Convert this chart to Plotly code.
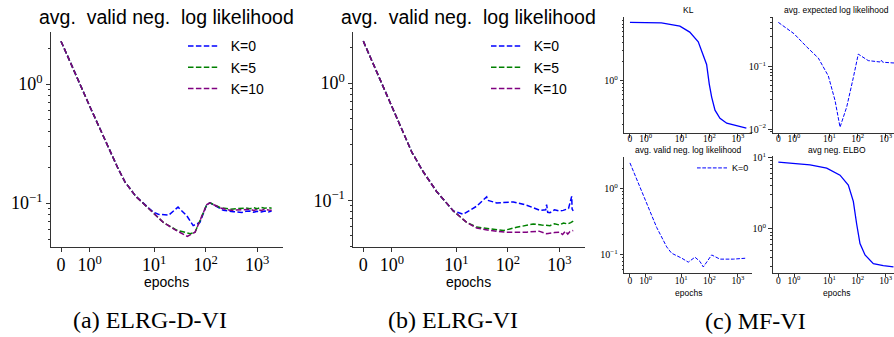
import math
import plotly.graph_objects as go

# ---------------- data (epochs, values) ----------------
# (a) ELRG-D-VI : avg. valid neg. log likelihood
a_k0_ep = [0, 1, 2, 2.7, 4.4, 6.6, 9.5, 12, 19, 29, 43, 57, 77, 105, 121, 160, 219, 344, 400, 500, 600, 725, 850, 1000, 1200, 1400, 1650, 1900]
a_k0_val = [2.29, 0.654, 0.194, 0.151, 0.114, 0.0963, 0.0844, 0.0807, 0.0793, 0.0927, 0.0782, 0.0648, 0.069, 0.0975, 0.1005, 0.094, 0.0871, 0.0849, 0.0845, 0.0835, 0.0855, 0.0859, 0.084, 0.0855, 0.0845, 0.086, 0.0845, 0.0859]
a_k5_ep = [0, 1, 2, 2.7, 4.4, 6.6, 9.5, 15, 27, 40, 50, 62, 77, 105, 121, 189, 296, 400, 500, 600, 725, 850, 1000, 1200, 1400, 1650, 1900]
a_k5_val = [2.29, 0.654, 0.194, 0.151, 0.114, 0.0963, 0.0844, 0.069, 0.0595, 0.057, 0.0554, 0.0571, 0.0712, 0.0975, 0.1005, 0.092, 0.089, 0.09, 0.09, 0.091, 0.09, 0.0915, 0.09, 0.092, 0.0905, 0.092, 0.0905]
a_k10_ep = [0, 1, 2, 2.7, 4.4, 6.6, 9.5, 15, 27, 44, 62, 77, 105, 121, 189, 296, 400, 500, 600, 725, 850, 1000, 1200, 1400, 1650, 1900]
a_k10_val = [2.29, 0.654, 0.194, 0.151, 0.114, 0.0963, 0.0844, 0.069, 0.0589, 0.0526, 0.0571, 0.0712, 0.0975, 0.1005, 0.0914, 0.0871, 0.0875, 0.088, 0.0885, 0.0888, 0.087, 0.0885, 0.087, 0.089, 0.0875, 0.0871]

# (b) ELRG-VI : avg. valid neg. log likelihood
b_k0_ep = [0, 1, 1.7, 2.26, 4.1, 8.7, 13.5, 24.6, 38.5, 40, 60, 127, 230, 418, 540, 563, 590, 653, 800, 1000, 1183, 1500, 1726, 1760, 1850]
b_k0_val = [2.28, 0.626, 0.256, 0.175, 0.119, 0.081, 0.076, 0.089, 0.107, 0.1, 0.095, 0.0968, 0.0908, 0.082, 0.083, 0.092, 0.079, 0.0784, 0.083, 0.081, 0.082, 0.085, 0.108, 0.084, 0.081]
b_k5_ep = [0, 1, 1.7, 2.26, 4.1, 8.7, 15.8, 24.6, 44.7, 82, 147, 230, 310, 450, 653, 800, 1000, 1200, 1450, 1650, 1850]
b_k5_val = [2.28, 0.626, 0.256, 0.175, 0.119, 0.081, 0.0647, 0.059, 0.0572, 0.0552, 0.0588, 0.061, 0.0627, 0.0615, 0.0607, 0.063, 0.0615, 0.064, 0.0627, 0.0645, 0.0663]
b_k10_ep = [0, 1, 1.7, 2.26, 4.1, 8.7, 15.8, 24.6, 44.7, 94, 230, 400, 563, 800, 1000, 1150, 1300, 1450, 1600, 1850]
b_k10_val = [2.28, 0.626, 0.256, 0.175, 0.119, 0.081, 0.0647, 0.058, 0.0552, 0.0534, 0.0534, 0.0545, 0.0518, 0.053, 0.0534, 0.051, 0.0545, 0.0515, 0.054, 0.0552]

# (c) MF-VI
c_kl_ep = [0, 2, 9, 20, 40, 60, 79, 98, 119, 156, 234, 405, 914, 2000]
c_kl_val = [8.5, 8.33, 7.38, 5.96, 4.17, 2.59, 1.82, 0.889, 0.553, 0.343, 0.255, 0.213, 0.194, 0.178]
c_ell_ep = [0, 1, 1.8, 4.06, 9.2, 15.9, 23.9, 41.3, 70.8, 106, 240, 625, 700, 780, 1810, 2000]
c_ell_val = [0.5, 0.33, 0.205, 0.135, 0.07, 0.0285, 0.0107, 0.0225, 0.066, 0.156, 0.123, 0.117, 0.125, 0.116, 0.113, 0.113]
c_vnll_ep = [0, 1.06, 1.7, 3.07, 4.6, 10.4, 17.8, 30.7, 46, 60.3, 90.6, 119, 234, 692, 2000]
c_vnll_val = [2.4, 0.6, 0.258, 0.132, 0.106, 0.0895, 0.078, 0.0925, 0.0798, 0.066, 0.0845, 0.1, 0.0865, 0.0865, 0.0895]
c_elbo_ep = [0, 2.06, 8.05, 23.9, 47, 70.8, 93, 122, 184, 363, 819, 1880]
c_elbo_val = [8.55, 7.85, 7.08, 5.63, 4.11, 2.43, 1.17, 0.624, 0.432, 0.326, 0.306, 0.294]

x_tick_epochs = [0, 1, 10, 100, 1000]
x_tick_text = ["0", "10<sup>0</sup>", "10<sup>1</sup>", "10<sup>2</sup>", "10<sup>3</sup>"]

# ---------------- helpers ----------------
W, H = 894, 337
LINTHRESH = 2.0
LINSCALE = 1.0 / (1.0 - 0.1)


def symlog(v):
    if v <= LINTHRESH:
        return v / LINTHRESH * LINSCALE
    return LINSCALE + math.log10(v / LINTHRESH)


def px(x):
    return x / W


def py(y):
    return 1 - y / H


def ytick_text(v):
    e = int(round(math.log10(v)))
    return "10<sup>" + ("−" + str(-e) if e < 0 else str(e)) + "</sup>"


minor_vals = [k * 10.0 ** d for d in range(-3, 2) for k in range(2, 10)]
AX = "#333333"

fig = go.Figure()

BLUE, GREEN, PURPLE = "blue", "green", "purple"
DASH_BIG = "5.5px,2.4px"
DASH_SMALL = "3.7px,1.6px"
PAD = "\u00a0\u00a0"


def add(ep, val, name, color, xa, ya, dash, width, legend=None, show=False):
    fig.add_trace(go.Scatter(
        x=[symlog(e) for e in ep], y=val, mode="lines", name=name,
        line=dict(color=color, width=width, dash=dash),
        xaxis=xa, yaxis=ya, showlegend=show, legend=legend,
        legendgroup=(legend or "") + name, hoverinfo="skip"))


add(a_k0_ep, a_k0_val, PAD + "K=0", BLUE, "x", "y", DASH_BIG, 1.5, "legend", True)
add(a_k5_ep, a_k5_val, PAD + "K=5", GREEN, "x", "y", DASH_BIG, 1.5, "legend", True)
add(a_k10_ep, a_k10_val, PAD + "K=10", PURPLE, "x", "y", DASH_BIG, 1.5, "legend", True)

add(b_k0_ep, b_k0_val, PAD + "K=0", BLUE, "x2", "y2", DASH_BIG, 1.5, "legend2", True)
add(b_k5_ep, b_k5_val, PAD + "K=5", GREEN, "x2", "y2", DASH_BIG, 1.5, "legend2", True)
add(b_k10_ep, b_k10_val, PAD + "K=10", PURPLE, "x2", "y2", DASH_BIG, 1.5, "legend2", True)

add(c_kl_ep, c_kl_val, "KL", BLUE, "x3", "y3", "solid", 1.3)
add(c_ell_ep, c_ell_val, "ELL", BLUE, "x4", "y4", DASH_SMALL, 1.0)
add(c_vnll_ep, c_vnll_val, "K=0", BLUE, "x5", "y5", DASH_SMALL, 1.0, "legend3", True)
add(c_elbo_ep, c_elbo_val, "ELBO", BLUE, "x6", "y6", "solid", 1.3)


def xaxis(domain, rng, fs, anchor, standoff):
    return dict(domain=domain, range=rng, anchor=anchor, tickmode="array",
                tickvals=[symlog(v) for v in x_tick_epochs], ticktext=x_tick_text,
                ticks="outside", ticklen=3.5, tickwidth=1, tickcolor=AX,
                ticklabelstandoff=standoff,
                showline=True, linecolor=AX, linewidth=1.2, showgrid=False, zeroline=False,
                tickfont=dict(family="Liberation Serif", size=fs, color="black"))


def yaxis(domain, rng, tv, fs, anchor, mlen=2):
    return dict(domain=domain, range=rng, anchor=anchor, type="log", tickmode="array",
                tickvals=tv, ticktext=[ytick_text(v) for v in tv],
                ticks="outside", ticklen=3.5, tickwidth=1, tickcolor=AX,
                showline=True, linecolor=AX, linewidth=1.2, showgrid=False, zeroline=False,
                tickfont=dict(family="Liberation Serif", size=fs, color="black"),
                minor=dict(tickvals=minor_vals, ticks="outside", ticklen=mlen, tickwidth=0.8,
                           tickcolor=AX, showgrid=False))


XR = [-0.2, 4.3]
LEG_FONT = dict(family="Liberation Sans", size=14, color="black")
fig.update_layout(
    width=W, height=H, margin=dict(l=0, r=0, t=0, b=0),
    paper_bgcolor="white", plot_bgcolor="white",
    xaxis=xaxis([px(50.7), px(282.5)], XR, 18, "y", -2),
    yaxis=yaxis([py(247), py(27)], [-1.369, 0.434], [0.1, 1], 18, "x"),
    xaxis2=xaxis([px(353), px(584.7)], XR, 18, "y2", -2),
    yaxis2=yaxis([py(247), py(27)], [-1.4, 0.433], [0.1, 1], 18, "x2"),
    xaxis3=xaxis([px(624.3), px(751.7)], XR, 9.5, "y3", -7),
    yaxis3=yaxis([py(130), py(11.7)], [-0.826, 1.008], [1], 10, "x3", 1.5),
    xaxis4=xaxis([px(772.7), 1.0], [-0.2, 4.103], 9.5, "y4", -7),
    yaxis4=yaxis([py(130), py(11.7)], [-2.062, -0.222], [0.01, 0.1], 10, "x4", 1.5),
    xaxis5=xaxis([px(624.3), px(751.7)], XR, 9.5, "y5", -5),
    yaxis5=yaxis([py(273.3), py(155)], [-1.268, 0.464], [0.1, 1], 10, "x5", 1.5),
    xaxis6=xaxis([px(772.7), 1.0], [-0.2, 4.103], 9.5, "y6", -5),
    yaxis6=yaxis([py(273.3), py(154)], [-0.614, 1.014], [1, 10], 10, "x6", 1.5),
    legend=dict(x=px(183), y=py(25), xanchor="left", yanchor="top", bgcolor="rgba(0,0,0,0)",
                font=LEG_FONT, traceorder="grouped", tracegroupgap=0, borderwidth=0),
    legend2=dict(x=px(486), y=py(25), xanchor="left", yanchor="top", bgcolor="rgba(0,0,0,0)",
                 font=LEG_FONT, traceorder="grouped", tracegroupgap=0, borderwidth=0),
    legend3=dict(x=px(692), y=py(151), xanchor="left", yanchor="top", bgcolor="rgba(0,0,0,0)",
                 font=dict(family="Liberation Sans", size=9, color="black"), borderwidth=0),
)

SANS = "Liberation Sans"
SERIF = "Liberation Serif"


def note(text, x, y, size, family, xanchor="center"):
    fig.add_annotation(text=text, x=px(x), y=py(y), xref="paper", yref="paper",
                       xanchor=xanchor, yanchor="middle", showarrow=False,
                       font=dict(family=family, size=size, color="black"))


note("avg.  valid neg.  log likelihood", 166.6, 11, 19.5, SANS)
note("avg.  valid neg.  log likelihood", 468.9, 11, 19.5, SANS)
note("epochs", 166.6, 283, 14, SANS)
note("epochs", 468.9, 283, 14, SANS)
note("KL", 688, 4, 8.5, SANS)
note("avg. expected log likelihood", 836.6, 4, 8.5, SANS)
note("avg. valid neg. log likelihood", 688, 147.5, 8.5, SANS)
note("avg neg. ELBO", 836.6, 147.5, 8.5, SANS)
note("epochs", 688, 294, 8.5, SANS)
note("epochs", 836.6, 294, 8.5, SANS)
note("(a) ELRG-D-VI", 150, 321.7, 24, SERIF)
note("(b) ELRG-VI", 452.5, 321.7, 24, SERIF)
note("(c) MF-VI", 755, 323, 24, SERIF)

fig.write_html("out.html", config={"displayModeBar": False},
               post_script="document.body.style.margin='0';document.body.style.overflow='hidden';")
